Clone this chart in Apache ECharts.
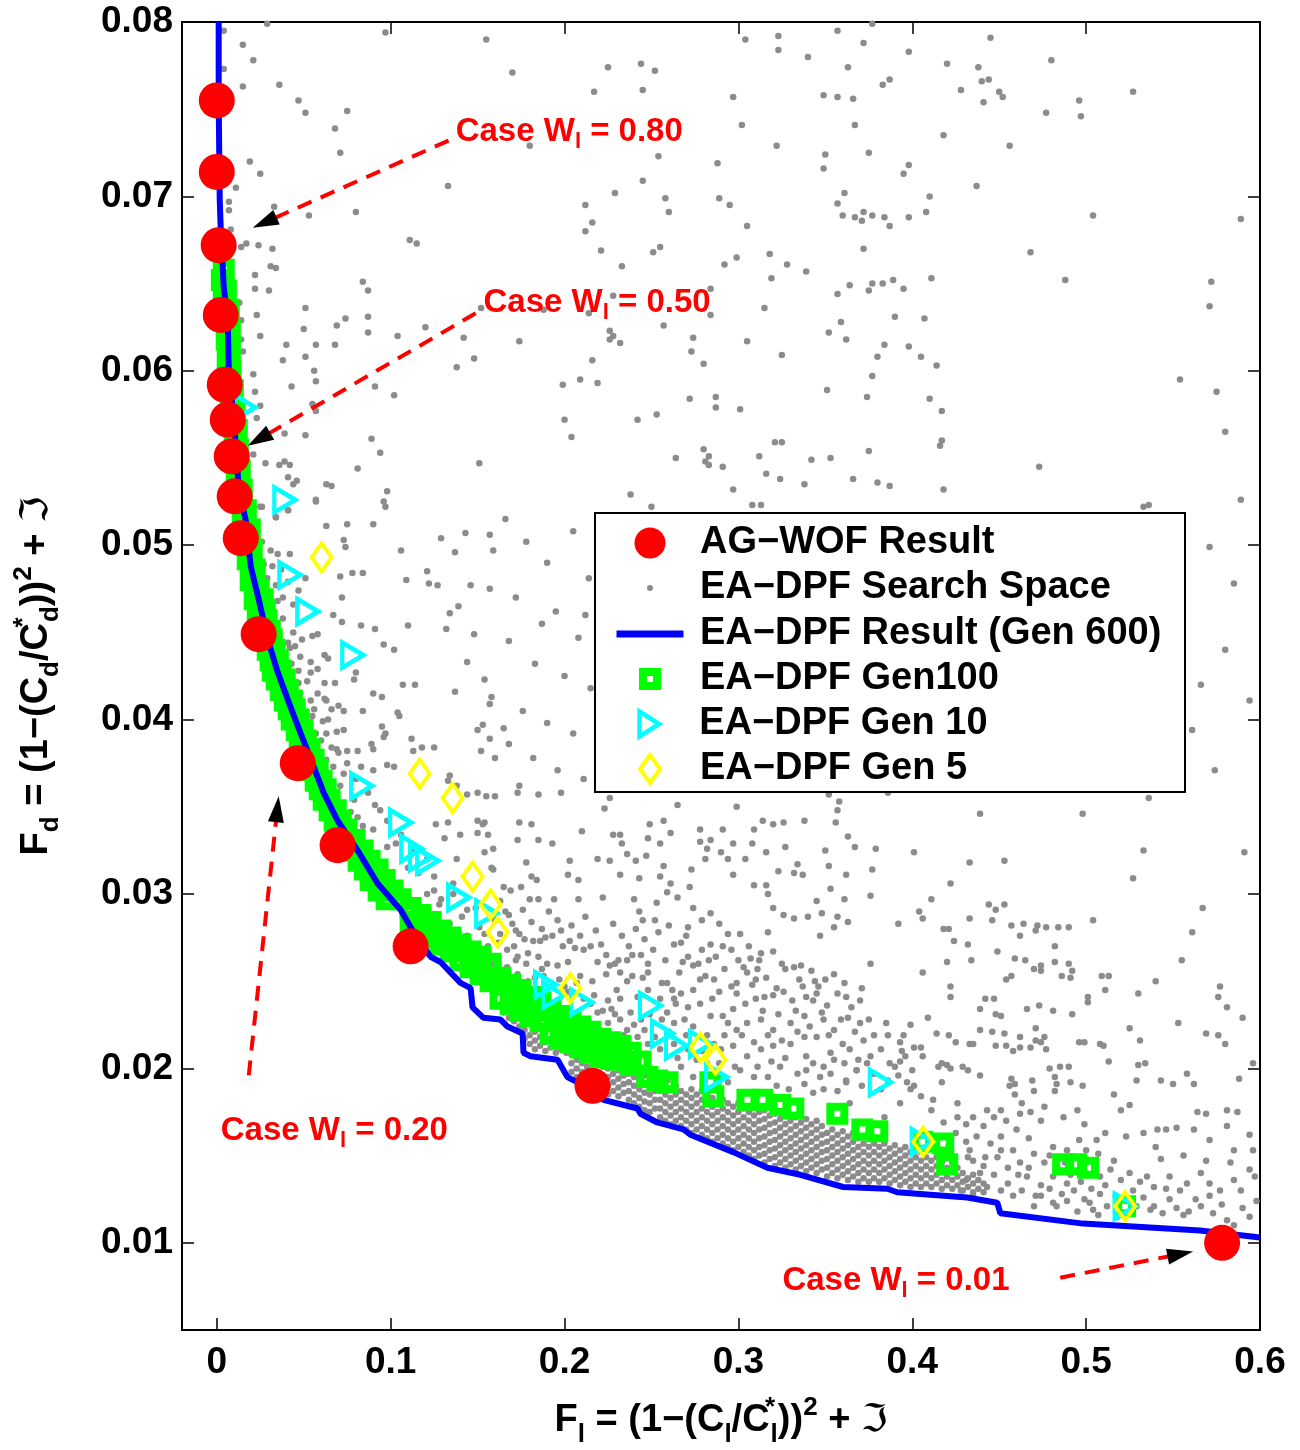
<!DOCTYPE html>
<html><head><meta charset="utf-8">
<script src="https://cdn.jsdelivr.net/npm/echarts@6/dist/echarts.min.js"></script>
<style>html,body{margin:0;padding:0;background:#fff}#c{width:1300px;height:1450px}</style>
</head><body><div id="c"></div>
<script>
// ---------------- DATA ----------------
const xTicks = [0, 0.1, 0.2, 0.3, 0.4, 0.5, 0.6];
const yTicks = [0.01, 0.02, 0.03, 0.04, 0.05, 0.06, 0.07, 0.08];

const agwofResult = [[0,.0755],[0,.0714],[.0011,.0672],[.0023,.0632],[.0046,.0592],[.0063,.0572],[.0086,.0551],[.0103,.0528],[.0138,.0504],[.0241,.0449],[.0466,.0375],[.0695,.0328],[.1115,.0270],[.2161,.0190],[.5782,.0100]];

const gen600Result = [[.0011,.0800],[.0011,.0755],[.0017,.0698],[.0023,.0681],[.0034,.0660],[.0040,.0648],[.0063,.0629],[.0069,.0600],[.0098,.0572],[.0126,.0533],[.0167,.0514],[.0195,.0488],[.0241,.0469],[.0293,.0446],[.0351,.0427],[.0425,.0407],[.0483,.0392],[.0557,.0373],[.0615,.0358],[.0695,.0342],[.0810,.0325],[.0925,.0306],[.1057,.0291],[.1144,.0276],[.1230,.0264],[.1287,.0261],[.1402,.0249],[.1460,.0246],[.1471,.0235],[.1534,.0229],[.1632,.0228],[.1672,.0224],[.1759,.0220],[.1764,.0209],[.1805,.0207],[.1960,.0205],[.2017,.0195],[.2075,.0192],[.2224,.0182],[.2420,.0177],[.2437,.0174],[.2534,.0169],[.2684,.0165],[.2724,.0162],[.2971,.0152],[.3167,.0143],[.3356,.0139],[.3603,.0132],[.3856,.0131],[.3914,.0129],[.4316,.0126],[.4489,.0123],[.4506,.0117],[.4983,.0111],[.5655,.0107],[.6000,.0103]];

const gen100 = [[.0040,.0658],[.0029,.0652],[.0052,.0646],[.0040,.0641],[.0069,.0635],[.0057,.0629],[.0075,.0623],[.0057,.0618],[.0075,.0612],[.0063,.0606],[.0080,.0600],[.0069,.0595],[.0092,.0589],[.0080,.0583],[.0103,.0578],[.0092,.0572],[.0115,.0566],[.0103,.0560],[.0121,.0555],[.0109,.0549],[.0132,.0543],[.0115,.0537],[.0144,.0532],[.0126,.0526],[.0167,.0520],[.0149,.0514],[.0190,.0509],[.0167,.0503],[.0201,.0497],[.0178,.0492],[.0218,.0486],[.0195,.0480],[.0241,.0474],[.0218,.0469],[.0264,.0469],[.0236,.0463],[.0276,.0463],[.0253,.0457],[.0287,.0457],[.0264,.0451],[.0305,.0451],[.0276,.0446],[.0316,.0446],[.0293,.0440],[.0333,.0440],[.0310,.0434],[.0351,.0434],[.0322,.0428],[.0368,.0428],[.0345,.0423],[.0391,.0423],[.0368,.0417],[.0408,.0417],[.0391,.0411],[.0431,.0411],[.0414,.0406],[.0448,.0406],[.0431,.0400],[.0471,.0400],[.0460,.0394],[.0494,.0394],[.0477,.0388],[.0511,.0388],[.0500,.0383],[.0534,.0383],[.0523,.0377],[.0557,.0377],[.0546,.0371],[.0580,.0371],[.0569,.0365],[.0603,.0365],[.0592,.0360],[.0626,.0360],[.0615,.0354],[.0649,.0354],[.0649,.0348],[.0684,.0348],[.0678,.0342],[.0713,.0342],[.0707,.0337],[.0747,.0337],[.0747,.0331],[.0793,.0331],[.0782,.0325],[.0839,.0325],[.0816,.0319],[.0879,.0319],[.0851,.0314],[.0925,.0314],[.0885,.0308],[.0966,.0308],[.0931,.0302],[.1011,.0302],[.0977,.0297],[.1057,.0297],
[.1115,.0292],[.1115,.0284],[.1172,.0288],[.1172,.0279],[.1230,.0284],[.1230,.0275],[.1287,.0279],[.1287,.0271],[.1345,.0275],[.1345,.0267],[.1402,.0271],[.1402,.0262],[.1460,.0267],[.1460,.0258],[.1517,.0264],[.1517,.0254],[.1575,.0260],[.1575,.0250],[.1632,.0252],[.1632,.0240],[.1690,.0248],[.1690,.0237],[.1747,.0245],[.1747,.0233],[.1805,.0241],[.1805,.0230],[.1862,.0238],[.1862,.0227],[.1920,.0233],[.1920,.0220],[.1977,.0230],[.1977,.0217],[.2034,.0227],[.2034,.0215],[.2092,.0224],[.2092,.0212],[.2149,.0221],[.2149,.0209],[.2207,.0217],[.2207,.0207],[.2264,.0215],[.2264,.0206],[.2322,.0213],[.2322,.0205],[.2379,.0209],[.2379,.0202],[.2437,.0204],
[.2477,.0195],[.2534,.0193],[.2592,.0192],[.2839,.0192],[.2856,.0184],[.3052,.0182],[.3138,.0182],[.3241,.0179],[.3316,.0177],[.3569,.0174],[.3713,.0165],[.3799,.0164],[.4057,.0158],[.4178,.0157],[.4201,.0145],[.4868,.0145],[.4943,.0145],[.5011,.0143],[.5224,.0121]];

const gen10 = [[.0161,.0579],[.0391,.0526],[.0420,.0483],[.0523,.0462],[.0782,.0437],[.0833,.0362],[.1057,.0341],[.1121,.0326],[.1172,.0321],[.1213,.0319],[.1391,.0298],[.1552,.0289],[.1891,.0248],[.1937,.0242],[.2098,.0238],[.2494,.0236],[.2563,.0220],[.2644,.0213],[.2782,.0214],[.2874,.0195],[.3816,.0192],[.4057,.0158],[.5224,.0121]];

const gen5 = [[.0603,.0493],[.1167,.0369],[.1356,.0355],[.1471,.0310],[.1575,.0294],[.1615,.0278],[.2034,.0246],[.2782,.0212],[.2868,.0205],[.4063,.0158],[.5224,.0121]];

// search space: scattered points
const searchSpace = [
[.155,.0790],[.170,.0771],[.225,.0774],[.244,.0776],[.252,.0772],[.217,.0760],[.245,.0761],[.304,.0790],[.323,.0792],[.323,.0784],[.357,.0795],[.340,.0780],[.363,.0774],[.297,.0757],[.349,.0758],[.357,.0757],[.366,.0756],[.302,.0741],[.367,.0741],[.180,.0729],[.254,.0723],[.322,.0729],[.350,.0724],[.349,.0716],[.288,.0719],[.133,.0706],[.245,.0709],[.229,.0702],[.212,.0695],[.258,.0699],[.260,.0691],[.289,.0699],[.295,.0695],[.361,.0702],[.357,.0696],[.360,.0689],[.367,.0688],[.216,.0685],[.212,.0680],[.305,.0683],[.221,.0669],[.251,.0668],[.255,.0671],[.233,.0660],[.292,.0661],[.299,.0665],[.318,.0667],[.328,.0661],[.339,.0657],[.319,.0653],[.284,.0647],[.364,.0649],[.357,.0644],[.228,.0643],[.152,.0636],[.188,.0635],[.214,.0633],[.284,.0632],[.315,.0636],[.257,.0626],[.359,.0628],[.352,.0622],[.142,.0619],[.174,.0617],[.226,.0623],[.228,.0620],[.226,.0618],[.232,.0616],[.274,.0619],[.305,.0617],[.362,.0618],[.273,.0611],[.325,.0609],[.138,.0602],[.148,.0607],[.216,.0606],[.280,.0604],[.199,.0592],[.209,.0595],[.219,.0593],[.351,.0589],[.272,.0584],[.287,.0585],[.287,.0579],[.301,.0578],[.200,.0572],[.242,.0572],[.253,.0575],[.204,.0562],[.321,.0559],[.325,.0559],[.151,.0547],[.264,.0550],[.280,.0555],[.283,.0551],[.281,.0548],[.283,.0546],[.291,.0545],[.312,.0551],[.342,.0549],[.353,.0550],[.316,.0541],[.324,.0538],[.338,.0535],[.366,.0538],[.297,.0532],[.238,.0529],[.250,.0522],[.308,.0523],[.313,.0523],
[.377,.0799],[.372,.0788],[.398,.0783],[.420,.0776],[.445,.0791],[.480,.0778],[.438,.0774],[.440,.0766],[.444,.0767],[.383,.0764],[.387,.0767],[.428,.0761],[.450,.0760],[.452,.0757],[.441,.0754],[.477,.0748],[.496,.0755],[.497,.0746],[.527,.0760],[.418,.0735],[.456,.0729],[.375,.0725],[.398,.0718],[.395,.0713],[.437,.0706],[.410,.0700],[.372,.0691],[.371,.0686],[.377,.0689],[.384,.0688],[.387,.0683],[.398,.0688],[.408,.0691],[.504,.0689],[.589,.0687],[.372,.0670],[.468,.0668],[.488,.0652],[.572,.0651],[.571,.0637],[.377,.0650],[.383,.0650],[.389,.0652],[.375,.0646],[.395,.0647],[.411,.0653],[.390,.0631],[.407,.0630],[.384,.0615],[.398,.0614],[.380,.0608],[.405,.0608],[.414,.0603],[.377,.0597],[.374,.0585],[.410,.0584],[.417,.0577],[.554,.0595],[.575,.0588],[.580,.0565],[.417,.0560],[.416,.0557],[.375,.0554],[.473,.0545],[.380,.0536],[.387,.0534],[.418,.0532],[.533,.0522],[.536,.0523],
[.029,.0799],[.004,.0795],[.015,.0787],[.021,.0778],[.004,.0773],[.036,.0764],[.015,.0763],[.047,.0755],[.051,.0748],[.075,.0749],[.097,.0794],[.068,.0739],[.071,.0725],[.019,.0720],[.025,.0713],[.011,.0705],[.007,.0697],[.007,.0692],[.080,.0691],[.053,.0689],[.033,.0694],[.008,.0681],[.017,.0673],[.014,.0671],[.024,.0672],[.032,.0670],[.111,.0675],[.115,.0673],[.031,.0660],[.034,.0659],[.084,.0651],[.087,.0646],[.022,.0655],[.022,.0647],[.030,.0646],[.013,.0639],[.023,.0632],[.051,.0636],[.074,.0630],[.087,.0631],[.069,.0626],[.050,.0624],[.087,.0622],[.104,.0620],[.120,.0625],[.014,.0629],[.014,.0618],[.025,.0620],[.040,.0615],[.057,.0615],[.068,.0615],[.015,.0611],[.038,.0606],[.051,.0608],[.056,.0600],[.057,.0594],[.021,.0598],[.043,.0591],[.091,.0591],[.102,.0586],[.022,.0588],[.025,.0580],[.055,.0581],[.057,.0577],[.023,.0573],[.039,.0564],[.051,.0563],[.089,.0561],[.094,.0553],[.021,.0552],[.028,.0547],[.036,.0546],[.039,.0548],[.042,.0546],[.041,.0539],[.046,.0537],[.044,.0535],[.063,.0535],[.066,.0534],[.081,.0544],[.098,.0531],[.096,.0525],[.097,.0522],[.057,.0526],[.026,.0522],[.034,.0516],[.041,.0520],
[.025,.0522],[.041,.0520],[.034,.0516],[.057,.0525],[.063,.0511],[.075,.0512],[.090,.0512],[.073,.0503],[.074,.0499],[.106,.0497],[.129,.0504],[.143,.0507],[.157,.0506],[.137,.0496],[.159,.0497],[.035,.0495],[.042,.0495],[.027,.0489],[.032,.0488],[.037,.0486],[.051,.0481],[.071,.0482],[.078,.0484],[.084,.0484],[.109,.0480],[.121,.0485],[.122,.0478],[.127,.0477],[.146,.0477],[.157,.0475],[.072,.0470],[.047,.0474],[.038,.0470],[.035,.0468],[.067,.0460],[.072,.0456],[.083,.0454],[.091,.0452],[.110,.0454],[.132,.0452],[.139,.0465],[.134,.0461],[.148,.0449],[.055,.0448],[.058,.0449],[.044,.0450],[.041,.0444],[.045,.0442],[.062,.0437],[.064,.0435],[.048,.0436],[.043,.0432],[.047,.0428],[.054,.0427],[.058,.0429],[.052,.0422],[.062,.0421],[.068,.0421],[.079,.0423],[.080,.0427],[.096,.0443],[.102,.0440],[.107,.0420],[.114,.0420],[.137,.0416],[.144,.0433],[.154,.0423],[.090,.0415],[.095,.0413],[.058,.0415],[.063,.0411],[.066,.0406],[.070,.0408],[.073,.0405],[.084,.0405],[.056,.0406],[.061,.0399],[.064,.0400],[.104,.0404],[.105,.0402],[.150,.0394],[.153,.0397],[.158,.0413],[.157,.0409],[.157,.0389],[.160,.0378],[.152,.0382],[.069,.0393],[.073,.0394],[.095,.0396],[.097,.0392],[.096,.0390],[.060,.0388],[.066,.0384],[.069,.0383],[.075,.0382],[.081,.0382],[.089,.0386],[.090,.0383],[.063,.0377],[.067,.0373],[.075,.0375],[.083,.0373],[.090,.0371],[.098,.0374],[.102,.0373],[.112,.0389],[.113,.0382],[.118,.0384],[.125,.0384],[.134,.0368],[.133,.0365],[.138,.0362],[.144,.0357],[.150,.0358],[.155,.0356],[.126,.0340],[.133,.0341],[.131,.0332],[.140,.0334],[.150,.0342],[.154,.0341],[.156,.0334],[.150,.0335],[.138,.0320],[.159,.0326],[.158,.0315],
[.048,.0415],[.054,.0411],[.057,.0392],[.062,.0369],[.071,.0362],[.079,.0354],[.087,.0358],[.094,.0348],[.081,.0344],[.090,.0337],[.098,.0342],[.106,.0334],[.113,.0324],[.121,.0320],[.098,.0327],[.110,.0315],[.125,.0310],[.136,.0306],[.129,.0297],[.144,.0291],[.121,.0300],[.134,.0283],[.154,.0277],[.146,.0270],
[.160,.0356],[.173,.0358],[.185,.0357],[.198,.0358],[.223,.0349],[.226,.0355],[.265,.0351],[.299,.0350],[.352,.0357],[.358,.0353],[.357,.0348],[.356,.0341],[.174,.0341],[.181,.0340],[.153,.0340],[.173,.0331],[.185,.0331],[.193,.0329],[.210,.0336],[.228,.0334],[.232,.0334],[.233,.0329],[.248,.0332],[.255,.0329],[.249,.0340],[.257,.0342],[.261,.0335],[.278,.0337],[.278,.0330],[.284,.0331],[.282,.0326],[.291,.0337],[.297,.0329],[.308,.0329],[.309,.0337],[.314,.0342],[.320,.0340],[.326,.0341],[.338,.0342],[.350,.0325],[.363,.0333],[.367,.0327],[.379,.0326],[.154,.0324],[.178,.0318],[.203,.0319],[.219,.0320],[.226,.0319],[.236,.0323],[.241,.0319],[.247,.0322],[.257,.0316],[.273,.0314],[.281,.0320],[.290,.0324],[.294,.0320],[.304,.0320],[.316,.0324],[.327,.0327],[.334,.0317],[.337,.0311],[.352,.0316],[.362,.0311],[.377,.0314],[.159,.0314],[.181,.0310],[.184,.0308],[.202,.0311],[.208,.0308],[.232,.0311],[.243,.0309],[.255,.0310],[.261,.0306],[.272,.0304],[.259,.0301],[.265,.0298],[.297,.0311],[.309,.0305],[.316,.0305],[.317,.0300],[.323,.0313],[.332,.0312],[.353,.0303],[.361,.0297],[.376,.0299],[.165,.0304],[.169,.0302],[.175,.0304],[.180,.0297],[.185,.0297],[.194,.0297],[.208,.0297],[.222,.0298],[.240,.0297],[.253,.0295],[.245,.0285],[.243,.0290],[.274,.0292],[.279,.0285],[.284,.0289],[.289,.0283],[.271,.0281],[.260,.0282],[.252,.0285],[.320,.0292],[.326,.0288],[.332,.0286],[.340,.0287],[.345,.0296],[.348,.0289],[.357,.0287],[.355,.0281],[.363,.0284],[.347,.0276],[.317,.0278],[.301,.0277],[.306,.0270],[.313,.0266],[.320,.0267],[.294,.0277],[.291,.0270],[.300,.0262],[.307,.0263],[.311,.0257],[.284,.0271],[.271,.0264],[.267,.0272],[.268,.0261],[.277,.0260],[.283,.0262],[.248,.0260],[.244,.0265],[.239,.0265],[.236,.0262],[.229,.0260],[.226,.0259],[.219,.0261],[.224,.0265],[.215,.0270],[.211,.0268],[.206,.0269],[.209,.0276],[.203,.0273],[.198,.0279],[.193,.0276],[.189,.0275],[.186,.0273],[.182,.0273],[.177,.0274],[.174,.0277],[.171,.0270],[.173,.0264],[.179,.0266],[.185,.0264],[.190,.0260],[.196,.0259],[.202,.0261],[.209,.0253],[.216,.0250],[.224,.0254],[.230,.0245],[.236,.0250],[.239,.0253],[.232,.0255],[.248,.0255],[.259,.0249],[.262,.0245],[.267,.0243],[.274,.0245],[.278,.0251],[.286,.0251],[.289,.0244],[.299,.0249],[.305,.0255],[.310,.0251],[.325,.0260],[.332,.0258],[.336,.0259],[.342,.0256],[.344,.0250],[.350,.0251],[.355,.0254],[.361,.0249],[.362,.0241],[.370,.0239],[.376,.0260],[.375,.0228],[.343,.0239],[.345,.0243],[.337,.0247],[.326,.0244],[.320,.0242],[.315,.0241],[.310,.0240],[.304,.0237],[.297,.0234],[.291,.0230],[.284,.0230],[.278,.0237],[.271,.0235],[.264,.0237],[.259,.0232],[.255,.0240],[.248,.0245],[.242,.0241],[.232,.0240],[.225,.0239],[.227,.0234],[.232,.0228],[.238,.0232],[.244,.0228],[.249,.0231],[.256,.0228],[.263,.0226],[.269,.0228],[.274,.0224],[.282,.0219],[.294,.0226],[.299,.0222],[.305,.0226],[.313,.0228],[.320,.0222],[.330,.0226],[.338,.0230],[.349,.0228],[.359,.0228],[.355,.0222],[.345,.0218],[.338,.0218],[.330,.0214],[.320,.0213],[.313,.0211],[.305,.0207],[.297,.0213],[.290,.0211],[.282,.0203],
[.156,.0270],[.161,.0264],[.167,.0258],[.173,.0254],[.179,.0250],[.184,.0245],[.190,.0241],[.196,.0237],[.202,.0234],[.207,.0228],[.213,.0224],[.219,.0220],[.225,.0216],[.230,.0213],[.236,.0209],[.242,.0205],[.248,.0201],[.253,.0197],[.259,.0193],[.158,.0260],[.188,.0253],[.200,.0247],[.205,.0243],[.215,.0237],[.219,.0232],[.225,.0226],[.236,.0222],[.242,.0218],[.248,.0214],[.255,.0211],[.263,.0214],[.271,.0211],[.276,.0205],[.267,.0201],[.274,.0195],[.286,.0197],[.294,.0192],[.301,.0199],[.311,.0201],[.317,.0195],[.324,.0201],[.334,.0197],[.343,.0203],[.353,.0197],[.362,.0193],[.368,.0199],[.353,.0209],[.364,.0211],[.372,.0216],
[.386,.0358],[.439,.0346],[.498,.0346],[.536,.0355],[.401,.0324],[.433,.0318],[.453,.0319],[.533,.0325],[.591,.0324],[.527,.0309],[.422,.0306],[.411,.0297],[.404,.0290],[.406,.0286],[.392,.0283],[.444,.0294],[.448,.0291],[.453,.0294],[.433,.0286],[.446,.0285],[.418,.0280],[.421,.0280],[.457,.0282],[.464,.0283],[.471,.0279],[.472,.0282],[.477,.0281],[.484,.0281],[.490,.0281],[.462,.0276],[.504,.0285],[.567,.0292],[.561,.0278],[.424,.0273],[.432,.0271],[.449,.0267],[.482,.0270],[.459,.0263],[.465,.0262],[.470,.0257],[.474,.0256],[.474,.0259],[.482,.0261],[.490,.0260],[.492,.0256],[.486,.0253],[.491,.0252],[.454,.0251],[.457,.0253],[.509,.0253],[.513,.0253],[.406,.0255],[.420,.0261],[.434,.0262],[.555,.0262],[.540,.0250],[.422,.0247],[.422,.0241],[.442,.0240],[.447,.0240],[.439,.0234],[.448,.0231],[.451,.0230],[.466,.0234],[.473,.0236],[.481,.0233],[.492,.0231],[.501,.0238],[.501,.0241],[.511,.0245],[.530,.0243],[.577,.0247],[.576,.0241],[.581,.0235],[.590,.0229],[.553,.0226],[.525,.0223],[.531,.0216],[.569,.0220],[.576,.0219],[.580,.0214],[.409,.0229],[.399,.0225],[.385,.0226],[.386,.0219],[.395,.0219],[.393,.0215],[.401,.0212],[.405,.0212],[.394,.0210],[.396,.0207],[.406,.0207],[.393,.0204],[.387,.0203],[.390,.0201],[.400,.0199],[.392,.0196],[.397,.0192],[.401,.0190],[.414,.0220],[.421,.0219],[.425,.0215],[.433,.0214],[.435,.0214],[.439,.0222],[.446,.0221],[.453,.0220],[.462,.0218],[.471,.0223],[.476,.0218],[.471,.0216],[.474,.0215],[.468,.0212],[.462,.0212],[.458,.0210],[.454,.0213],[.448,.0213],[.477,.0211],[.496,.0215],[.499,.0215],[.508,.0214],[.510,.0213],[.513,.0204],[.530,.0202],[.534,.0203],[.558,.0197],[.543,.0193],[.529,.0193],[.550,.0191],[.562,.0191],[.588,.0194],[.596,.0203],[.415,.0201],[.417,.0203],[.420,.0202],[.422,.0200],[.429,.0201],[.432,.0199],[.439,.0196],[.457,.0194],[.459,.0191],[.456,.0190],[.469,.0193],[.479,.0200],[.485,.0201],[.490,.0201],[.482,.0195],[.483,.0191],[.491,.0192],[.498,.0190],
[.417,.0192],[.459,.0185],[.470,.0187],[.482,.0187],[.564,.0175],[.569,.0174],[.581,.0176],[.587,.0175],[.594,.0162],[.596,.0153],[.585,.0153],[.581,.0167],[.571,.0159],[.562,.0165],[.552,.0166],[.546,.0165],[.541,.0165],[.533,.0163],[.525,.0179],[.520,.0176],[.516,.0185],[.506,.0159],[.500,.0153],[.495,.0176],[.496,.0159],[.489,.0153],[.481,.0155],[.474,.0170],[.468,.0175],[.462,.0174],[.460,.0165],[.454,.0170],[.451,.0161],[.447,.0172],[.443,.0176],[.435,.0172],[.431,.0168],[.426,.0180],[.426,.0172],[.433,.0153],[.442,.0149],[.435,.0147],[.451,.0153],[.458,.0153],[.462,.0146],[.470,.0151],[.476,.0146],[.466,.0138],[.474,.0133],[.481,.0138],[.489,.0134],[.493,.0130],[.499,.0125],[.508,.0128],[.508,.0138],[.514,.0142],[.520,.0136],[.525,.0140],[.527,.0130],[.535,.0138],[.539,.0132],[.543,.0148],[.548,.0138],[.554,.0130],[.558,.0134],[.566,.0140],[.571,.0134],[.577,.0130],[.585,.0136],[.594,.0142],[.589,.0130],[.566,.0121],[.573,.0117],[.581,.0113],[.556,.0116],[.548,.0125],[.539,.0121],[.533,.0126],[.512,.0121],[.504,.0119],[.502,.0123],[.489,.0124],[.481,.0123],[.474,.0127],[.470,.0121],[.458,.0127],[.451,.0130],[.443,.0132],[.439,.0140],[.431,.0136],[.428,.0130],[.435,.0127],[.594,.0115],[.585,.0110],
[.339,.0199],[.347,.0195],[.355,.0205],[.362,.0192],[.368,.0199],[.374,.0203],[.382,.0188],[.399,.0188],[.412,.0182],[.393,.0180],[.364,.0180],[.384,.0172],[.343,.0186],
[.166,.0515],[.178,.0502],[.190,.0490],[.205,.0508],[.214,.0481],[.172,.0470],[.195,.0462],[.208,.0447],[.168,.0445],[.183,.0432],[.200,.0425],[.215,.0418],[.176,.0405],[.190,.0398],[.205,.0392],[.168,.0386],[.182,.0378],[.196,.0371],[.211,.0366],[.174,.0362],[.165,.0395],[.187,.0455],[.212,.0460],
[.571,.0499],[.589,.0526],[.580,.0440],[.594,.0411],[.574,.0371],[.561,.0394],[.585,.0478],[.566,.0420],
[.026,.0502],[.031,.0497],[.029,.0481],[.034,.0477],[.041,.0479],[.032,.0463],[.038,.0458],[.044,.0466],[.036,.0447],[.042,.0441],[.049,.0446],[.041,.0427],[.047,.0421],[.054,.0433],[.049,.0409],[.055,.0402],[.062,.0412],[.057,.0386],[.063,.0392],[.070,.0381],[.067,.0363],[.073,.0369],[.080,.0366],[.077,.0347],[.084,.0339],[.091,.0351],[.089,.0324],[.096,.0318],[.103,.0329],[.102,.0306],[.109,.0301],[.116,.0312],[.125,.0302],[.113,.0294],[.119,.0289],[.128,.0294],[.136,.0300],[.125,.0286],[.132,.0281],[.141,.0287],[.149,.0292],[.137,.0277],[.144,.0276],[.151,.0281],[.160,.0285],[.166,.0290],[.170,.0283],[.163,.0277],
[.163,.0296],[.168,.0288],[.172,.0279],[.176,.0291],[.181,.0284],[.187,.0280],[.191,.0290],[.196,.0285],[.199,.0270],[.204,.0282],[.212,.0287],[.218,.0279],[.221,.0271],[.228,.0283],[.233,.0276],[.237,.0270],[.241,.0280],[.246,.0274],[.251,.0268],[.254,.0278],[.258,.0262],[.263,.0271],[.266,.0255],[.270,.0276],[.274,.0259],[.279,.0268],[.281,.0253],[.287,.0264],[.292,.0257],[.296,.0268],[.299,.0243],[.303,.0258],[.308,.0248],[.312,.0262],[.316,.0252],[.322,.0246],[.327,.0257],[.331,.0239],[.335,.0251],[.339,.0241],[.346,.0247],[.351,.0236],[.357,.0243],[.365,.0235],[.371,.0246],[.367,.0221],[.360,.0214],[.352,.0219],[.341,.0224],[.334,.0221],[.325,.0216],[.317,.0219],[.309,.0215],[.302,.0219],[.292,.0219],[.286,.0214],[.279,.0210],[.270,.0219],[.265,.0206],[.260,.0221],[.252,.0218],[.246,.0222],[.240,.0225],[.234,.0219],[.229,.0231],[.222,.0233],[.217,.0242],[.211,.0240],[.207,.0249],[.202,.0244],[.197,.0251],[.193,.0247],[.187,.0257],[.183,.0252],[.178,.0260],[.172,.0262],[.167,.0268],[.162,.0272],[.231,.0262],[.245,.0252],[.256,.0249],[.263,.0240],[.285,.0240],[.296,.0247],[.314,.0233],[.323,.0231],[.333,.0233],[.348,.0232],[.363,.0229],[.370,.0226],[.378,.0219],[.382,.0211],[.376,.0207],[.369,.0205],[.361,.0203],[.349,.0201],[.339,.0207],[.327,.0206],[.319,.0204],[.309,.0195],[.298,.0201],[.289,.0203],[.378,.0197],[.386,.0193],[.371,.0190],[.357,.0187],[.349,.0188],[.338,.0191],[.329,.0188],[.322,.0190],
[.405,.0184],[.411,.0176],[.418,.0169],[.425,.0163],[.431,.0158],[.437,.0161],[.445,.0157],[.449,.0149],[.455,.0143],[.461,.0139],[.467,.0143],[.479,.0131],[.486,.0128],[.491,.0139],[.497,.0135],[.503,.0131],[.511,.0133],[.517,.0127],[.523,.0124],[.529,.0121],[.537,.0119],[.544,.0117],[.552,.0120],[.559,.0118],[.563,.0125],[.571,.0127],[.578,.0122],[.590,.0120],[.598,.0124],[.546,.0131],[.531,.0135],[.516,.0147],[.507,.0151],[.488,.0146],[.479,.0150],[.467,.0160],[.441,.0167],[.451,.0176],[.463,.0180],[.476,.0178],[.487,.0172],[.499,.0168],[.511,.0163],[.523,.0161],[.540,.0155],[.556,.0150],[.569,.0147],[.583,.0146],[.597,.0138],[.413,.0161],[.421,.0156],[.432,.0149],[.441,.0144],[.447,.0139],[.455,.0134],[.463,.0130],[.471,.0127],[.483,.0121],[.495,.0118],[.507,.0116],[.518,.0115]
];

// search space: densely packed band between Gen100 and Gen600 (columns: F_l, list of F_d)
const searchSpaceBand = [
[.165,[.0232]],[.168,[.0229]],[.171,[.0227]],[.174,[.0224]],[.177,[.0217,.0222]],[.180,[.0214,.0219]],[.183,[.0211,.0216,.0221]],[.186,[.0213,.0218]],[.189,[.0210,.0215,.0220]],[.192,[.0212,.0217]],[.195,[.0209,.0214,.0219]],[.198,[.0211,.0216]],[.201,[.0209,.0214]],[.204,[.0198,.0203,.0208,.0213]],[.207,[.0195,.0200,.0205,.0210]],[.210,[.0193,.0198,.0203,.0208]],[.213,[.0191,.0196,.0201,.0206,.0211]],[.216,[.0189,.0194,.0199,.0204]],[.219,[.0187,.0192,.0197,.0202,.0207]],[.222,[.0186,.0191,.0196,.0201]],[.225,[.0185,.0190,.0195,.0200,.0205]],[.228,[.0187,.0192,.0197,.0202]],[.231,[.0184,.0189,.0194,.0199]],[.234,[.0186,.0191,.0196,.0201]],[.237,[.0182,.0187,.0192,.0197]],[.240,[.0180,.0185,.0190,.0195,.0200]],[.243,[.0178,.0183,.0188,.0193,.0198]],[.246,[.0176,.0181,.0186,.0191,.0196]],[.249,[.0175,.0180,.0185,.0190,.0195]],[.252,[.0177,.0182,.0187,.0192]],[.255,[.0172,.0177,.0182,.0187,.0192]],[.258,[.0170,.0175,.0180,.0185,.0190]],[.261,[.0168,.0173,.0178,.0183,.0188]],[.264,[.0170,.0175,.0180,.0185,.0190]],[.267,[.0167,.0172,.0177,.0182,.0187]],[.270,[.0165,.0170,.0175,.0180,.0185]],[.273,[.0163,.0168,.0173,.0178,.0183,.0188]],[.276,[.0165,.0170,.0175,.0180,.0185]],[.279,[.0162,.0167,.0172,.0177,.0182,.0187]],[.282,[.0160,.0165,.0170,.0175,.0180,.0185]],[.285,[.0158,.0163,.0168,.0173,.0178,.0183]],[.288,[.0160,.0165,.0170,.0175,.0180]],[.291,[.0157,.0162,.0167,.0172,.0177,.0182]],[.294,[.0155,.0160,.0165,.0170,.0175,.0180]],[.297,[.0153,.0158,.0163,.0168,.0173,.0178]],[.300,[.0155,.0160,.0165,.0170,.0175,.0180]],[.303,[.0152,.0157,.0162,.0167,.0172,.0177]],[.306,[.0150,.0155,.0160,.0165,.0170,.0175]],[.309,[.0148,.0153,.0158,.0163,.0168,.0173,.0178]],[.312,[.0150,.0155,.0160,.0165,.0170,.0175]],[.315,[.0146,.0151,.0156,.0161,.0166,.0171,.0176]],[.318,[.0148,.0153,.0158,.0163,.0168,.0173]],[.321,[.0144,.0149,.0154,.0159,.0164,.0169,.0174]],[.324,[.0146,.0151,.0156,.0161,.0166,.0171]],[.327,[.0143,.0148,.0153,.0158,.0163,.0168,.0173]],[.330,[.0145,.0150,.0155,.0160,.0165,.0170]],[.333,[.0142,.0147,.0152,.0157,.0162,.0167,.0172]],[.336,[.0144,.0149,.0154,.0159,.0164,.0169]],[.339,[.0141,.0146,.0151,.0156,.0161,.0166,.0171]],[.342,[.0143,.0148,.0153,.0158,.0163,.0168]],[.345,[.0140,.0145,.0150,.0155,.0160,.0165,.0170]],[.348,[.0142,.0147,.0152,.0157,.0162,.0167]],[.351,[.0138,.0143,.0148,.0153,.0158,.0163]],[.354,[.0140,.0145,.0150,.0155,.0160,.0165]],[.357,[.0137,.0142,.0147,.0152,.0157,.0162]],[.360,[.0139,.0144,.0149,.0154,.0159,.0164]],[.363,[.0136,.0141,.0146,.0151,.0156,.0161]],[.366,[.0138,.0143,.0148,.0153,.0158,.0163]],[.369,[.0135,.0140,.0145,.0150,.0155,.0160]],[.372,[.0137,.0142,.0147,.0152,.0157]],[.375,[.0135,.0140,.0145,.0150,.0155,.0160]],[.378,[.0137,.0142,.0147,.0152,.0157]],[.381,[.0135,.0140,.0145,.0150,.0155]],[.384,[.0137,.0142,.0147,.0152,.0157]],[.387,[.0134,.0139,.0144,.0149,.0154]],[.390,[.0136,.0141,.0146,.0151,.0156]],[.393,[.0133,.0138,.0143,.0148,.0153]],[.396,[.0135,.0140,.0145,.0150,.0155]],[.399,[.0132,.0137,.0142,.0147,.0152]],[.402,[.0134,.0139,.0144,.0149]],[.405,[.0132,.0137,.0142,.0147,.0152]],[.408,[.0134,.0139,.0144,.0149]],[.411,[.0132,.0137,.0142,.0147]],[.414,[.0134,.0139,.0144,.0149]],[.417,[.0131,.0136,.0141,.0146]],[.420,[.0133,.0138,.0143]],[.423,[.0131,.0136,.0141,.0146]],[.426,[.0133,.0138,.0143]],[.429,[.0130,.0135,.0140]],[.432,[.0132,.0137]],[.435,[.0129,.0134,.0139]],[.438,[.0131,.0136]],[.441,[.0129,.0134]]
];

// annotations (data coordinates)
const annotations = [
  {w: '0.80', textAt: [.1374, .0737], from: [.1333, .0732], tip: [.0207, .0682]},
  {w: '0.50', textAt: [.1534, .0639], from: [.1489, .0633], tip: [.0178, .0557]},
  {w: '0.20', textAt: [.0023, .0164], from: [.0184, .0196], tip: [.0356, .0356]},
  {w: '0.01', textAt: [.3253, .0078], from: [.4851, .0080], tip: [.5615, .0095]}
];

// ---------------- CHART ----------------
const FONT = '"Liberation Sans", Arial, Helvetica, sans-serif';
const chart = echarts.init(document.getElementById('c'), null, {renderer: 'canvas', width: 1300, height: 1450});

const searchAll = searchSpace.slice();
searchSpaceBand.forEach(([x, ys]) => ys.forEach(y => searchAll.push([x, y])));

const titleRich = {
  m: {fontSize: 38, fontWeight: 'bold', fontFamily: FONT, color: '#000'},
  sub: {fontSize: 26, fontWeight: 'bold', fontFamily: FONT, color: '#000', padding: [28, 0, 0, 0]},
  sup: {fontSize: 26, fontWeight: 'bold', fontFamily: FONT, color: '#000', padding: [0, 0, 26, 0]},
  supz: {fontSize: 26, fontWeight: 'bold', fontFamily: FONT, color: '#000', padding: [0, 0, 26, 0], width: 1},
  fr: {fontSize: 38, fontFamily: '"DejaVu Serif", "DejaVu Sans", serif', color: '#000'}
};
const xTitle = '{m|F}{sub|l}{m| = (1−(C}{sub|l}{m|/C}{supz|*}{sub|l}{m|))}{sup|2}{m| + }{fr|ℑ}';
const yTitle = '{m|F}{sub|d}{m| = (1−(C}{sub|d}{m|/C}{supz|*}{sub|d}{m|))}{sup|2}{m| + }{fr|ℑ}';

const axisLineStyle = {show: true, onZero: false, lineStyle: {color: '#000', width: 2}};
const tickStyle = (vals) => ({show: true, inside: true, length: 12, lineStyle: {color: '#000', width: 1.5}, customValues: vals});
const labelStyle = {fontSize: 37, fontWeight: 'bold', fontFamily: FONT, color: '#000'};

const legendText = (pad) => ({fontSize: 38, fontWeight: 'bold', fontFamily: FONT, color: '#000', lineHeight: 40, padding: [0, 0, 0, pad]});
function legendRow(name, center, iconCenter, w, h, icon, itemStyle) {
  const half = (itemStyle.borderWidth || 0) / 2;  // stroke overhang of outlined icons
  return {
    data: [{name: name, icon: icon}], orient: 'vertical', left: iconCenter - w / 2 - half, top: center - 17,
    itemWidth: w, itemHeight: h, padding: 0, itemGap: 0, selectedMode: false, z: 6,
    itemStyle: itemStyle, textStyle: legendText(700 - (iconCenter - w / 2) - w - 5)
  };
}

const option = {
  animation: false,
  backgroundColor: '#fff',
  grid: {left: 182, right: 40, top: 22, bottom: 120, containLabel: false, outerBoundsMode: 'none'},
  xAxis: [
    {type: 'value', min: -0.02, max: 0.6, position: 'bottom',
     axisLine: axisLineStyle, axisTick: tickStyle(xTicks), splitLine: {show: false},
     axisLabel: Object.assign({show: true, customValues: xTicks, margin: 14, formatter: v => (v === 0 ? '0' : String(+v.toFixed(1)))}, labelStyle),
     name: xTitle, nameLocation: 'middle', nameGap: 64, nameTextStyle: {rich: titleRich}},
    {type: 'value', min: -0.02, max: 0.6, position: 'top',
     axisLine: axisLineStyle, axisTick: tickStyle(xTicks), axisLabel: {show: false}, splitLine: {show: false}}
  ],
  yAxis: [
    {type: 'value', min: 0.005, max: 0.08, position: 'left',
     axisLine: axisLineStyle, axisTick: tickStyle(yTicks), splitLine: {show: false},
     axisLabel: Object.assign({show: true, customValues: yTicks, margin: 9, formatter: v => v.toFixed(2)}, labelStyle),
     name: yTitle, nameLocation: 'middle', nameGap: 118, nameRotate: 90, nameTextStyle: {rich: titleRich}},
    {type: 'value', min: 0.005, max: 0.08, position: 'right',
     axisLine: axisLineStyle, axisTick: tickStyle(yTicks), axisLabel: {show: false}, splitLine: {show: false}}
  ],
  legend: [
    legendRow('AG−WOF Result', 540, 650, 31, 31, 'circle', {borderWidth: 0}),
    legendRow('EA−DPF Search Space', 585, 650, 6, 6, 'circle', {borderWidth: 0}),
    legendRow('EA−DPF Result (Gen 600)', 631, 650, 67, 7, 'rect', {borderWidth: 0, color: '#0000ff'}),
    legendRow('EA−DPF Gen100', 676, 650, 14, 14, 'path://M0,0L10,0L10,10L0,10Z', {borderWidth: 8}),
    legendRow('EA−DPF Gen 10', 721, 650, 21, 25, 'path://M0,0L22,14L0,28Z', {borderWidth: 4.5}),
    legendRow('EA−DPF Gen 5', 766, 650, 20, 28, 'path://M10,0L20,14L10,28L0,14Z', {borderWidth: 4})
  ],
  series: [
    {name: 'EA−DPF Search Space', type: 'scatter', data: searchAll, symbol: 'circle', symbolSize: 6.5,
     itemStyle: {color: '#8c8c8c', opacity: 1}, silent: true, z: 2},
    {name: 'EA−DPF Gen100', type: 'scatter', data: gen100, symbol: 'rect', symbolSize: 14,
     itemStyle: {color: 'rgba(0,0,0,0)', borderColor: '#00ff00', borderWidth: 8, opacity: 1}, silent: true, z: 2},
    {name: 'EA−DPF Gen 10', type: 'scatter', data: gen10, symbol: 'path://M0,0L22,14L0,28Z', symbolSize: [21, 25],
     itemStyle: {color: 'rgba(0,0,0,0)', borderColor: '#00ffff', borderWidth: 4.5, opacity: 1}, silent: true, z: 2},
    {name: 'EA−DPF Gen 5', type: 'scatter', data: gen5, symbol: 'diamond', symbolSize: [20, 28],
     itemStyle: {color: 'rgba(0,0,0,0)', borderColor: '#ffff00', borderWidth: 4, opacity: 1}, silent: true, z: 2},
    {name: 'EA−DPF Result (Gen 600)', type: 'line', data: gen600Result, symbol: 'none', showSymbol: false,
     lineStyle: {color: '#0000ff', width: 6}, itemStyle: {color: '#0000ff'}, silent: true, z: 3},
    {name: 'AG−WOF Result', type: 'scatter', data: agwofResult, symbol: 'circle', symbolSize: 36,
     itemStyle: {color: '#ff0000', opacity: 1}, silent: true, z: 4}
  ]
};
chart.setOption(option);

// annotations + legend frame
const annRich = {
  a: {fill: '#ff0000', fontSize: 33, fontWeight: 'bold', fontFamily: FONT},
  s: {fill: '#ff0000', fontSize: 22, fontWeight: 'bold', fontFamily: FONT, padding: [20, 0, 0, 0]}
};
const g = [{type: 'rect', id: 'legendBox', shape: {x: 595, y: 513, width: 590, height: 279},
  style: {fill: '#fff', stroke: '#000', lineWidth: 2}, z: 5}];
annotations.forEach((a, i) => {
  const s = chart.convertToPixel({gridIndex: 0}, a.from);
  const t = chart.convertToPixel({gridIndex: 0}, a.tip);
  const p = chart.convertToPixel({gridIndex: 0}, a.textAt);
  const dx = t[0] - s[0], dy = t[1] - s[1], L = Math.hypot(dx, dy), ux = dx / L, uy = dy / L;
  const hl = 26, hw = 8;
  const bx = t[0] - ux * hl, by = t[1] - uy * hl;
  g.push({type: 'line', id: 'al' + i, shape: {x1: s[0], y1: s[1], x2: bx + ux * 3, y2: by + uy * 3},
    style: {stroke: '#ff0000', lineWidth: 4, lineDash: [15, 10]}, z: 10});
  g.push({type: 'polygon', id: 'ah' + i, shape: {points: [[t[0], t[1]], [bx - uy * hw, by + ux * hw], [bx + uy * hw, by - ux * hw]]},
    style: {fill: '#000'}, z: 10});
  g.push({type: 'text', id: 'at' + i, x: p[0], y: p[1],
    style: {text: '{a|Case W}{s|l}{a| = ' + a.w + '}', rich: annRich, fill: '#ff0000', align: 'left', verticalAlign: 'middle'}, z: 10});
});
chart.setOption({graphic: g});
</script>
</body></html>
